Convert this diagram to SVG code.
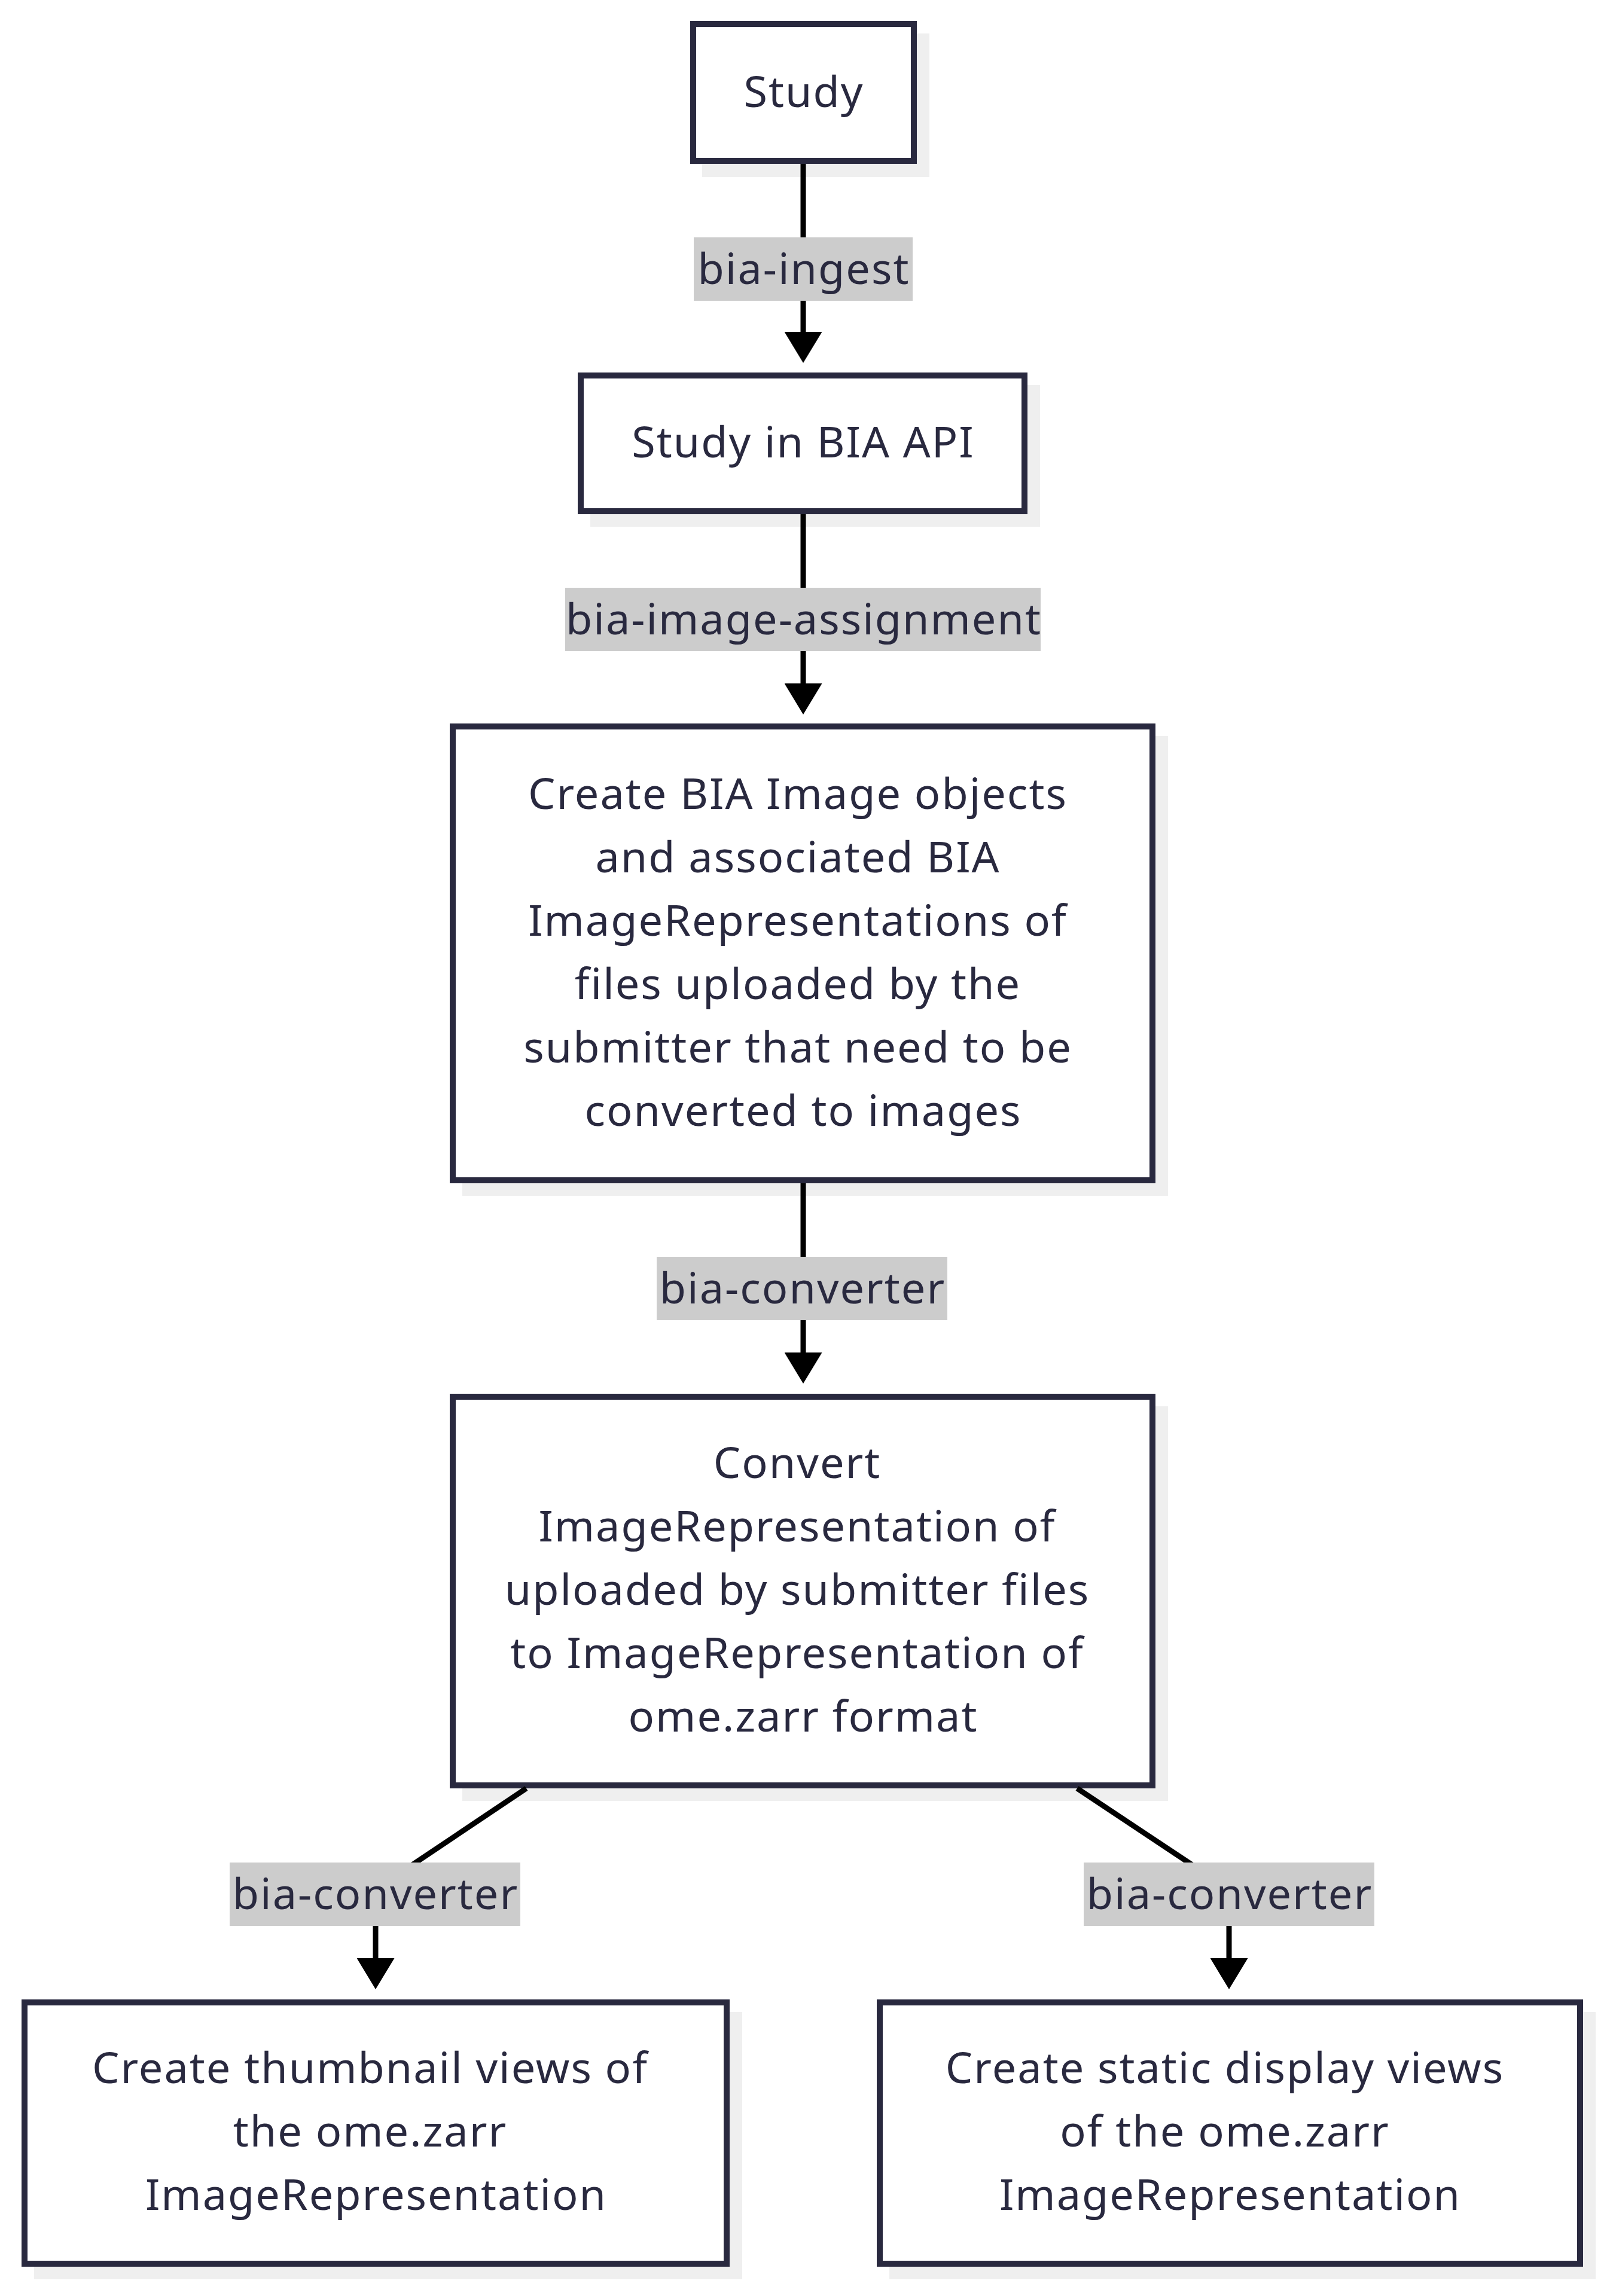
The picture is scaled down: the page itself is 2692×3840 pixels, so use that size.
<svg xmlns="http://www.w3.org/2000/svg" width="2692" height="3840" viewBox="0 0 2692 3840">
<defs>
<marker id="arrow" viewBox="0 0 10 10" refX="0" refY="5" markerUnits="userSpaceOnUse" markerWidth="52" markerHeight="63" orient="auto" preserveAspectRatio="none">
<path d="M0,0 L10,5 L0,10 z" fill="#000"/>
</marker>
</defs>
<style>
.shadow{fill:#efefef;}
.box{fill:#fff;stroke:#29293f;stroke-width:10;}
.t{font-family:"Noto Sans","Open Sans","DejaVu Sans",sans-serif;font-size:72px;letter-spacing:2px;fill:#29293f;text-anchor:middle;}
.edge{fill:none;stroke:#000;stroke-width:9;}
.lbl{fill:#cccccc;}
</style>
<rect width="2692" height="3840" fill="#fff"/>
<g id="node-study">
<rect class="shadow" x="1174" y="56" width="380" height="240"/>
<rect class="box" x="1159" y="40" width="369" height="229"/>
<text class="t" x="1344" y="179">Study</text>
</g>
<g id="node-study-api">
<rect class="shadow" x="987" y="644" width="752" height="237"/>
<rect class="box" x="971" y="628" width="742" height="227"/>
<text class="t" x="1343" y="765">Study in BIA API</text>
</g>
<g id="node-create-images">
<rect class="shadow" x="773" y="1231" width="1180" height="769"/>
<rect class="box" x="757" y="1215" width="1170" height="759"/>
<text class="t" x="1334" y="1353">Create BIA Image objects</text>
<text class="t" x="1334" y="1459">and associated BIA</text>
<text class="t" x="1334" y="1565">ImageRepresentations of</text>
<text class="t" x="1334" y="1671">files uploaded by the</text>
<text class="t" x="1334" y="1777">submitter that need to be</text>
<text class="t" x="1343" y="1883">converted to images</text>
</g>
<g id="node-convert">
<rect class="shadow" x="773" y="2352" width="1180" height="660"/>
<rect class="box" x="757" y="2336" width="1170" height="650"/>
<text class="t" x="1333" y="2472">Convert</text>
<text class="t" x="1333" y="2578">ImageRepresentation of</text>
<text class="t" x="1333" y="2684">uploaded by submitter files</text>
<text class="t" x="1333" y="2790">to ImageRepresentation of</text>
<text class="t" x="1343" y="2896">ome.zarr format</text>
</g>
<g id="node-thumbnail">
<rect class="shadow" x="57" y="3365" width="1184" height="447"/>
<rect class="box" x="41" y="3349" width="1174" height="437"/>
<text class="t" x="619" y="3484">Create thumbnail views of</text>
<text class="t" x="619" y="3590">the ome.zarr</text>
<text class="t" x="629" y="3696">ImageRepresentation</text>
</g>
<g id="node-static">
<rect class="shadow" x="1487" y="3365" width="1181" height="447"/>
<rect class="box" x="1471" y="3349" width="1171" height="437"/>
<text class="t" x="2048" y="3484">Create static display views</text>
<text class="t" x="2048" y="3590">of the ome.zarr</text>
<text class="t" x="2057" y="3696">ImageRepresentation</text>
</g>
<g id="connectors">
<path class="edge" d="M1343,274 V555" marker-end="url(#arrow)"/>
<path class="edge" d="M1343,860 V1143" marker-end="url(#arrow)"/>
<path class="edge" d="M1343,1979 V2262" marker-end="url(#arrow)"/>
<path class="edge" d="M880,2991 L628,3160 V3275" marker-end="url(#arrow)"/>
<path class="edge" d="M1801,2991 L2055,3160 V3275" marker-end="url(#arrow)"/>
</g>
<g id="edge-labels">
<g id="label-ingest"><rect class="lbl" x="1160" y="397" width="366" height="106"/><text class="t" x="1344" y="475">bia-ingest</text></g>
<g id="label-assignment"><rect class="lbl" x="945" y="983" width="795" height="106"/><text class="t" x="1344" y="1061">bia-image-assignment</text></g>
<g id="label-converter1"><rect class="lbl" x="1098" y="2102" width="486" height="106"/><text class="t" x="1342" y="2180">bia-converter</text></g>
<g id="label-converter2"><rect class="lbl" x="384" y="3115" width="486" height="106"/><text class="t" x="628" y="3193">bia-converter</text></g>
<g id="label-converter3"><rect class="lbl" x="1812" y="3115" width="486" height="106"/><text class="t" x="2056" y="3193">bia-converter</text></g>
</g>
</svg>
